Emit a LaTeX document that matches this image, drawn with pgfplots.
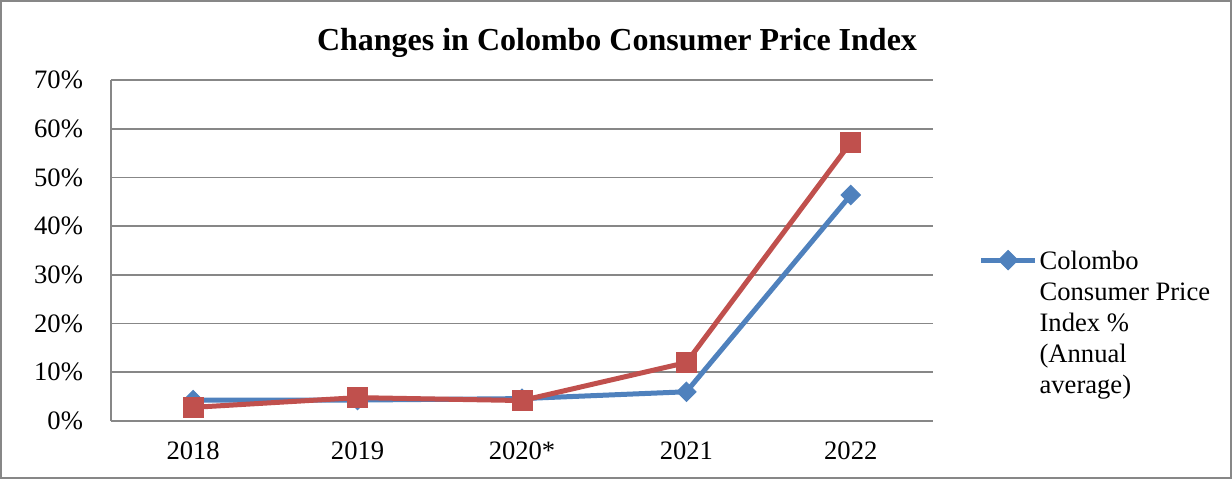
\documentclass[border=0pt]{standalone}
\usepackage{pgfplots}
\pgfplotsset{compat=1.18}
\usepackage{fontspec}
\setmainfont{Liberation Serif}
\definecolor{cblue}{HTML}{4F81BD}
\definecolor{cred}{HTML}{C0504D}
\definecolor{cgrid}{HTML}{878787}
\begin{document}
\begin{tikzpicture}
\useasboundingbox (0,0) rectangle (616pt,239.5pt);
\draw[cgrid, line width=1pt] (0.5pt,0.5pt) rectangle (615.5pt,239pt);
\begin{axis}[
  at={(55.5pt,29pt)}, anchor=south west,
  scale only axis, width=411pt, height=170.5pt,
  xmin=-0.5, xmax=4.5, ymin=0, ymax=70,
  xtick={0,1,2,3,4},
  xticklabels={2018,2019,2020*,2021,2022},
  ytick={0,10,20,30,40,50,60,70},
  yticklabels={0\%,10\%,20\%,30\%,40\%,50\%,60\%,70\%},
  axis lines=left,
  axis line style={-, cgrid, line width=0.8pt},
  ymajorgrids,
  grid style={cgrid, line width=0.8pt},
  major tick length=0pt,
  tick label style={font=\fontsize{13.3}{15.5}\selectfont},
  yticklabel style={xshift=-10.5pt},
  xticklabel style={yshift=-7pt},
  title={Changes in Colombo Consumer Price Index},
  title style={font=\fontsize{16}{19}\selectfont\bfseries, at={(0.6156,1)}, anchor=base, yshift=9pt},
  legend style={at={(1.055,0.515)}, anchor=north west, draw=none, fill=none, inner sep=0pt,
    font=\fontsize{13.3}{15.5}\selectfont, nodes={inner sep=1pt}},
  legend cell align=left,
  legend image code/.code={\draw[mark repeat=2, mark phase=2, #1] plot coordinates {(0pt,0pt) (13.5pt,0pt) (27pt,0pt)};},
  clip=false,
]
\addplot[cblue, line width=2.5pt, mark=square*, mark size=3.4pt, mark options={rotate=45, line width=0.5pt}]
  coordinates {(0,4.3) (1,4.3) (2,4.6) (3,6.0) (4,46.4)};
\addlegendentry{\begin{tabular}[t]{@{}l@{}}Colombo\\Consumer Price\\Index \%\\(Annual\\average)\end{tabular}}
\addplot[cred, line width=2.5pt, mark=square*, mark size=5pt, mark options={line width=0.5pt}, forget plot]
  coordinates {(0,2.8) (1,4.8) (2,4.2) (3,12.0) (4,57.2)};
\end{axis}
\end{tikzpicture}
\end{document}
